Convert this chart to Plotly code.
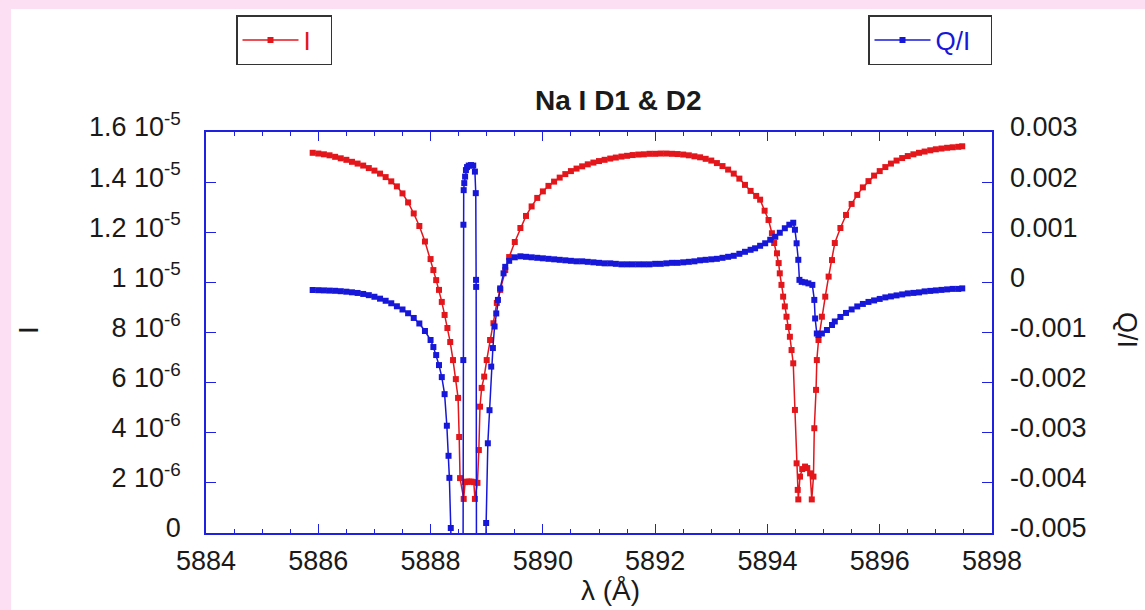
import plotly.graph_objects as go

# ---------------- data ----------------
wl_I = [5885.9, 5886.0, 5886.1, 5886.2, 5886.3, 5886.4, 5886.5, 5886.6, 5886.7, 5886.8,
        5886.9, 5887.0, 5887.1, 5887.2, 5887.3, 5887.4, 5887.5, 5887.6, 5887.7, 5887.8,
        5887.9, 5888.0, 5888.05, 5888.1, 5888.15, 5888.2, 5888.25, 5888.3, 5888.35, 5888.4,
        5888.45, 5888.49, 5888.51, 5888.525, 5888.59, 5888.615, 5888.65, 5888.69, 5888.73, 5888.77,
        5888.79, 5888.835, 5888.86, 5888.88, 5888.91, 5888.955, 5889.0, 5889.06, 5889.12, 5889.18,
        5889.24, 5889.33, 5889.4, 5889.5, 5889.6, 5889.7, 5889.8, 5889.9, 5890.0, 5890.1,
        5890.2, 5890.3, 5890.4, 5890.5, 5890.6, 5890.7, 5890.8, 5890.9, 5891.0, 5891.1,
        5891.2, 5891.3, 5891.4, 5891.5, 5891.6, 5891.7, 5891.8, 5891.9, 5892.0, 5892.1,
        5892.2, 5892.3, 5892.4, 5892.5, 5892.6, 5892.7, 5892.8, 5892.9, 5893.0, 5893.1,
        5893.2, 5893.3, 5893.4, 5893.5, 5893.6, 5893.7, 5893.8, 5893.87, 5893.95, 5894.02,
        5894.08, 5894.12, 5894.17, 5894.2, 5894.22, 5894.25, 5894.28, 5894.31, 5894.34, 5894.37,
        5894.4, 5894.43, 5894.46, 5894.49, 5894.52, 5894.54, 5894.55, 5894.58, 5894.62, 5894.67,
        5894.71, 5894.76, 5894.79, 5894.82, 5894.835, 5894.866, 5894.88, 5894.91, 5894.97, 5895.03,
        5895.09, 5895.15, 5895.2, 5895.3, 5895.4, 5895.5, 5895.6, 5895.7, 5895.8, 5895.9,
        5896.0, 5896.1, 5896.2, 5896.3, 5896.4, 5896.5, 5896.6, 5896.7, 5896.8, 5896.9,
        5897.0, 5897.1, 5897.2, 5897.3, 5897.4, 5897.47]

I_vals = [1.517e-5, 1.514e-5, 1.511e-5, 1.507e-5, 1.501e-5, 1.495e-5, 1.489e-5, 1.481e-5, 1.474e-5, 1.466e-5,
          1.456e-5, 1.446e-5, 1.434e-5, 1.420e-5, 1.403e-5, 1.383e-5, 1.355e-5, 1.319e-5, 1.275e-5, 1.225e-5,
          1.163e-5, 1.093e-5, 1.049e-5, 1.009e-5, 0.970e-5, 0.922e-5, 0.870e-5, 0.818e-5, 0.762e-5, 0.690e-5,
          0.614e-5, 0.539e-5, 0.383e-5, 0.219e-5, 0.136e-5, 0.203e-5, 0.205e-5, 0.205e-5, 0.205e-5, 0.203e-5,
          0.136e-5, 0.200e-5, 0.331e-5, 0.504e-5, 0.579e-5, 0.624e-5, 0.690e-5, 0.770e-5, 0.837e-5, 0.918e-5,
          0.970e-5, 1.049e-5, 1.101e-5, 1.161e-5, 1.217e-5, 1.265e-5, 1.303e-5, 1.337e-5, 1.363e-5, 1.385e-5,
          1.402e-5, 1.418e-5, 1.432e-5, 1.444e-5, 1.454e-5, 1.463e-5, 1.471e-5, 1.478e-5, 1.484e-5, 1.489e-5,
          1.494e-5, 1.498e-5, 1.502e-5, 1.505e-5, 1.508e-5, 1.510e-5, 1.511e-5, 1.513e-5, 1.513e-5, 1.514e-5,
          1.514e-5, 1.513e-5, 1.512e-5, 1.510e-5, 1.507e-5, 1.503e-5, 1.499e-5, 1.493e-5, 1.486e-5, 1.476e-5,
          1.464e-5, 1.450e-5, 1.434e-5, 1.414e-5, 1.389e-5, 1.365e-5, 1.345e-5, 1.330e-5, 1.286e-5, 1.249e-5,
          1.196e-5, 1.157e-5, 1.116e-5, 1.077e-5, 1.036e-5, 0.990e-5, 0.943e-5, 0.904e-5, 0.863e-5, 0.822e-5,
          0.783e-5, 0.730e-5, 0.677e-5, 0.491e-5, 0.278e-5, 0.172e-5, 0.134e-5, 0.225e-5, 0.255e-5, 0.265e-5,
          0.259e-5, 0.238e-5, 0.134e-5, 0.225e-5, 0.418e-5, 0.571e-5, 0.690e-5, 0.770e-5, 0.863e-5, 0.943e-5,
          1.023e-5, 1.089e-5, 1.157e-5, 1.217e-5, 1.269e-5, 1.313e-5, 1.349e-5, 1.379e-5, 1.404e-5, 1.426e-5,
          1.444e-5, 1.460e-5, 1.474e-5, 1.486e-5, 1.496e-5, 1.504e-5, 1.511e-5, 1.517e-5, 1.522e-5, 1.527e-5,
          1.531e-5, 1.534e-5, 1.537e-5, 1.539e-5, 1.541e-5, 1.543e-5]

wl_Q = [5885.9, 5886.0, 5886.1, 5886.2, 5886.3, 5886.4, 5886.5, 5886.6, 5886.7, 5886.8,
        5886.9, 5887.0, 5887.1, 5887.2, 5887.3, 5887.4, 5887.5, 5887.6, 5887.7, 5887.8,
        5887.9, 5888.0, 5888.05, 5888.1, 5888.15, 5888.2, 5888.25, 5888.29, 5888.32, 5888.335,
        5888.36, 5888.40, 5888.45, 5888.50, 5888.55, 5888.575, 5888.583, 5888.585, 5888.59, 5888.60,
        5888.615, 5888.63, 5888.65, 5888.68, 5888.72, 5888.76, 5888.79, 5888.805, 5888.81, 5888.812,
        5888.82, 5888.88, 5888.95, 5888.98, 5888.99, 5889.02, 5889.05, 5889.08, 5889.11, 5889.14,
        5889.17, 5889.20, 5889.24, 5889.30, 5889.33, 5889.4, 5889.5, 5889.6, 5889.7, 5889.8,
        5889.9, 5890.0, 5890.1, 5890.2, 5890.3, 5890.4, 5890.5, 5890.6, 5890.7, 5890.8,
        5890.9, 5891.0, 5891.1, 5891.2, 5891.3, 5891.4, 5891.5, 5891.6, 5891.7, 5891.8,
        5891.9, 5892.0, 5892.1, 5892.2, 5892.3, 5892.4, 5892.5, 5892.6, 5892.7, 5892.8,
        5892.9, 5893.0, 5893.1, 5893.2, 5893.3, 5893.4, 5893.5, 5893.6, 5893.7, 5893.78,
        5893.87, 5893.96, 5894.05, 5894.14, 5894.22, 5894.31, 5894.39, 5894.46, 5894.49, 5894.52,
        5894.55, 5894.57, 5894.61, 5894.67, 5894.73, 5894.80, 5894.835, 5894.85, 5894.88, 5894.91,
        5894.97, 5895.06, 5895.15, 5895.2, 5895.3, 5895.4, 5895.5, 5895.6, 5895.7, 5895.8,
        5895.9, 5896.0, 5896.1, 5896.2, 5896.3, 5896.4, 5896.5, 5896.6, 5896.7, 5896.8,
        5896.9, 5897.0, 5897.1, 5897.2, 5897.3, 5897.4, 5897.47]

QI_vals = [-0.000152, -0.000156, -0.00016, -0.000164, -0.000168, -0.000176, -0.000186, -0.000198, -0.000211, -0.000231,
           -0.000255, -0.000287, -0.000325, -0.000367, -0.000417, -0.000477, -0.000541, -0.000616, -0.00071, -0.00082,
           -0.00097, -0.00115, -0.00129, -0.00145, -0.00165, -0.00189, -0.00223, -0.00286, -0.00346, -0.0039,
           -0.0049, -0.0075, -0.011, -0.014, -0.011, -0.008, -0.00155, 0.00115, 0.00184, 0.00198,
           0.00211, 0.00224, 0.0023, 0.00233, 0.00234, 0.00233, 0.00221, 0.00178, 0.00005, -0.00009,
           -0.008, -0.014, -0.010, -0.0055, -0.0048, -0.00321, -0.00255, -0.00168, -0.00131, -0.00088,
           -0.00062, -0.00035, -0.00012, 0.00018, 0.00031, 0.00043, 0.00050, 0.00052, 0.00051, 0.00050,
           0.00049, 0.00048, 0.00047, 0.00046, 0.00045, 0.00044, 0.00043, 0.00042, 0.00042, 0.00041,
           0.00040, 0.00039, 0.00038, 0.00038, 0.00037, 0.00036, 0.00036, 0.00036, 0.00036, 0.00036,
           0.00036, 0.00037, 0.00037, 0.00038, 0.00039, 0.00039, 0.00040, 0.00041, 0.00042, 0.00044,
           0.00045, 0.00046, 0.00047, 0.00049, 0.00051, 0.00053, 0.00057, 0.00061, 0.00065, 0.00068,
           0.00073, 0.00078, 0.00085, 0.00091, 0.00099, 0.00108, 0.00115, 0.00119, 0.00105, 0.00078,
           0.00045, 0.00005, 0.00001, 0.0, -0.00002, -0.00005, -0.00035, -0.00072, -0.00102, -0.00105,
           -0.00102, -0.00095, -0.00085, -0.00078, -0.00069, -0.00061, -0.00054, -0.00048, -0.00043, -0.00039,
           -0.00036, -0.00033, -0.00030, -0.00028, -0.00026, -0.00024, -0.00022, -0.00021, -0.00020, -0.00018,
           -0.00017, -0.00016, -0.00015, -0.00014, -0.00013, -0.00013, -0.00012]

x_ticks = [5884, 5886, 5888, 5890, 5892, 5894, 5896, 5898]
y1_ticks = [0, 2e-6, 4e-6, 6e-6, 8e-6, 1e-5, 1.2e-5, 1.4e-5, 1.6e-5]
y1_labels = ["0", "2 10<sup>-6</sup>", "4 10<sup>-6</sup>", "6 10<sup>-6</sup>", "8 10<sup>-6</sup>",
             "1 10<sup>-5</sup>", "1.2 10<sup>-5</sup>", "1.4 10<sup>-5</sup>", "1.6 10<sup>-5</sup>"]
y2_ticks = [-0.005, -0.004, -0.003, -0.002, -0.001, 0, 0.001, 0.002, 0.003]
y2_labels = ["-0.005", "-0.004", "-0.003", "-0.002", "-0.001", "0", "0.001", "0.002", "0.003"]

# ---------------- styling ----------------
FONT = "Liberation Sans, Arial, Helvetica, sans-serif"
RED = "#e3161c"
BLUE = "#1717d9"
AXIS = "#2020e0"
PINK = "#fcdff3"
TXT = "#1a1a1a"
NB = "\u00a0"

W, H = 1145, 610
L, R, T, B = 206, 153, 132, 77
pw, ph = W - L - R, H - T - B

def px(xp):
    return (xp - L) / pw

def py(yp):
    return (H - B - yp) / ph

fig = go.Figure()
fig.add_trace(go.Scatter(
    x=wl_I, y=I_vals, name="I" + NB * 2, mode="lines+markers", showlegend=True,
    line=dict(color=RED, width=1.5),
    marker=dict(symbol="square", size=6, color=RED),
    legend="legend", yaxis="y"))
fig.add_trace(go.Scatter(
    x=wl_Q, y=QI_vals, name="Q/I" + NB * 2, mode="lines+markers", showlegend=True,
    line=dict(color=BLUE, width=1.5),
    marker=dict(symbol="square", size=6, color=BLUE),
    legend="legend2", yaxis="y2"))

tickfont = dict(family=FONT, size=27, color=TXT)

legend_common = dict(yanchor="top", y=py(15), bgcolor="white", bordercolor="#333333",
                     borderwidth=1.5, itemwidth=56, tracegroupgap=0, visible=True)

fig.update_layout(
    width=W, height=H,
    margin=dict(l=L, r=R, t=T, b=B, pad=0, autoexpand=False),
    paper_bgcolor=PINK, plot_bgcolor="white",
    font=dict(family=FONT),
    showlegend=True,
    xaxis=dict(range=[5884, 5898], tickvals=x_ticks, ticks="inside", ticklen=9,
               tickwidth=1.3, tickcolor=AXIS, showline=True, linecolor=AXIS, linewidth=1.5,
               mirror="ticks", showgrid=False, zeroline=False, tickfont=tickfont,
               ticklabelstandoff=3,
               minor=dict(dtick=0.5, tick0=5884, ticks="inside", ticklen=4,
                          tickwidth=1.3, tickcolor=AXIS)),
    yaxis=dict(range=[0, 1.6e-5], tickvals=y1_ticks, ticktext=y1_labels, ticks="inside",
               ticklen=10, tickwidth=1.3, tickcolor=AXIS, showline=True, linecolor=AXIS,
               linewidth=1.5, mirror="ticks", showgrid=False, zeroline=False,
               tickfont=tickfont, ticklabelstandoff=18, ticklabelshift=-5),
    yaxis2=dict(range=[-0.005, 0.003], overlaying="y", side="right", tickvals=y2_ticks,
                ticktext=y2_labels, ticks="", showline=False, showgrid=False,
                zeroline=False, tickfont=tickfont, ticklabelstandoff=17, ticklabelshift=-5),
    legend=dict(x=px(236), xanchor="left", font=dict(family=FONT, size=26, color=RED),
                **legend_common),
    legend2=dict(x=px(992), xanchor="right", font=dict(family=FONT, size=26, color=BLUE),
                 **legend_common),
    shapes=[dict(type="rect", xref="paper", yref="paper", layer="below",
                 x0=px(11), x1=px(W + 5), y0=py(H + 5), y1=py(9),
                 fillcolor="white", line=dict(width=0))],
    annotations=[
        dict(text="<b>Na I D1 &amp; D2</b>", x=px(618), y=py(100), xref="paper", yref="paper",
             showarrow=False, xanchor="center", yanchor="middle",
             font=dict(family=FONT, size=28, color=TXT)),
        dict(text="λ (Å)", x=px(610), y=py(590), xref="paper", yref="paper",
             showarrow=False, xanchor="center", yanchor="middle",
             font=dict(family=FONT, size=28, color=TXT)),
        dict(text="I", x=px(28), y=py(330), xref="paper", yref="paper", textangle=-90,
             showarrow=False, xanchor="center", yanchor="middle",
             font=dict(family=FONT, size=28, color=TXT)),
        dict(text="Q/I", x=px(1127), y=py(330), xref="paper", yref="paper", textangle=90,
             showarrow=False, xanchor="center", yanchor="middle",
             font=dict(family=FONT, size=27, color=TXT)),
    ],
)

fig.write_html(
    "out.html",
    config={"displayModeBar": False},
    post_script="document.body.style.margin='0';document.body.style.background='" + PINK + "';",
)
